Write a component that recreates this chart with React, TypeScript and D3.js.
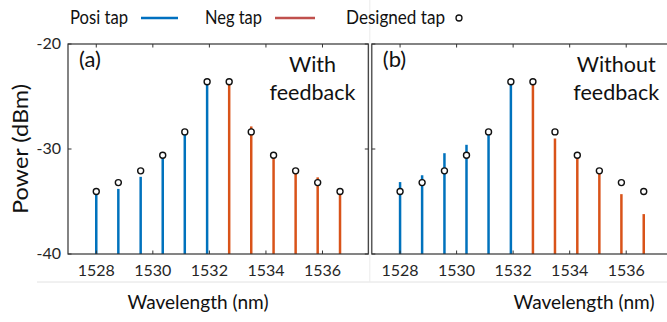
import * as d3 from 'd3'

const wavelengths = [1528.0, 1528.78, 1529.57, 1530.35, 1531.13, 1531.92, 1532.7, 1533.48, 1534.27, 1535.05, 1535.83, 1536.62]
const tapSign = ['pos', 'pos', 'pos', 'pos', 'pos', 'pos', 'neg', 'neg', 'neg', 'neg', 'neg', 'neg']
const designed = [-34.05, -33.2, -32.08, -30.6, -28.37, -23.6, -23.6, -28.37, -30.6, -32.08, -33.2, -34.05]
const withFeedback = [-34.05, -33.8, -32.65, -30.6, -28.4, -23.6, -23.6, -27.85, -30.7, -32.0, -32.7, -34.05]
const withoutFeedback = [-33.15, -32.5, -30.4, -29.6, -28.37, -23.6, -23.6, -29.0, -30.8, -32.08, -34.3, -36.2]
const xTicks = [1528, 1530, 1532, 1534, 1536]
const yTicks = [-20, -30, -40]

const BLUE = '#0072BD'
const ORANGE = '#D95319'
const FONT = 'Lato, "Open Sans", sans-serif'

const y = d3.scaleLinear().domain([-40, -20]).range([254, 44])

function Panel({ x0, x1, values, label, note, xLabelAt }: { x0: number; x1: number; values: number[]; label: string; note: string[]; xLabelAt: number }) {
  const x = d3.scaleLinear().domain([1527, 1537.62]).range([x0, x1])
  const [top, bottom] = [y(-20), y(-40)]
  const cx = x(1536) - 10
  return (
    <g>
      {/* stems */}
      {values.map((v, i) => (
        <line key={'s' + i} x1={x(wavelengths[i])} x2={x(wavelengths[i])} y1={bottom} y2={y(v)}
          stroke={tapSign[i] === 'pos' ? BLUE : ORANGE} strokeWidth={2.5} />
      ))}
      {/* box */}
      <rect x={x0} y={top} width={x1 - x0} height={bottom - top} fill="none" stroke="#333" strokeWidth={1.2} />
      {xTicks.map(t => (
        <g key={'xt' + t}>
          <line x1={x(t)} x2={x(t)} y1={bottom} y2={bottom - 3.5} stroke="#333" />
          <line x1={x(t)} x2={x(t)} y1={top} y2={top + 3.5} stroke="#333" />
          <text x={x(t)} y={276} textAnchor="middle" fontSize={16} fill="#262626" fontFamily={FONT}>{t}</text>
        </g>
      ))}
      {yTicks.map(t => (
        <g key={'yt' + t}>
          <line x1={x0} x2={x0 + 3.5} y1={y(t)} y2={y(t)} stroke="#333" />
          <line x1={x1} x2={x1 - 3.5} y1={y(t)} y2={y(t)} stroke="#333" />
        </g>
      ))}
      {/* designed taps */}
      {designed.map((v, i) => (
        <circle key={'c' + i} cx={x(wavelengths[i])} cy={y(v)} r={3} fill="#fff" stroke="#111" strokeWidth={1.4} />
      ))}
      <text x={x0 + 11} y={67} fontSize={22} fill="#111" fontFamily={FONT}>{label}</text>
      {note.map((n, i) => (
        <text key={n} x={cx} y={72 + i * 28} textAnchor="middle" fontSize={21.5} fill="#111" fontFamily={FONT}>{n}</text>
      ))}
      <text x={xLabelAt} y={309} textAnchor="middle" fontSize={19.5} textLength={141} lengthAdjust="spacingAndGlyphs"
        fill="#111" fontFamily={FONT}>Wavelength (nm)</text>
    </g>
  )
}

export default function App() {
  return (
    <svg width={667} height={322} style={{ position: 'absolute', left: 0, top: 0, background: '#fff' }}>
      <line x1={37} x2={667} y1={282} y2={282} stroke="#e2e2e2" />
      <line x1={369.8} x2={369.8} y1={0} y2={282} stroke="#ececec" />
      {/* legend */}
      <text x={70} y={24} fontSize={19.5} textLength={58} lengthAdjust="spacingAndGlyphs" fill="#111" fontFamily={FONT}>Posi tap</text>
      <line x1={141} x2={178} y1={18} y2={18} stroke="#0070C0" strokeWidth={2.5} />
      <text x={205} y={24} fontSize={19.5} textLength={57} lengthAdjust="spacingAndGlyphs" fill="#111" fontFamily={FONT}>Neg tap</text>
      <line x1={275} x2={315} y1={18} y2={18} stroke="#C0504D" strokeWidth={2.5} />
      <text x={346} y={24} fontSize={19.5} textLength={99} lengthAdjust="spacingAndGlyphs" fill="#111" fontFamily={FONT}>Designed tap</text>
      <circle cx={459} cy={18} r={3} fill="#fff" stroke="#111" strokeWidth={1.3} />
      {/* y axis */}
      {yTicks.map(t => (
        <text key={t} x={61} y={y(t) + 5} textAnchor="end" fontSize={16} fill="#262626" fontFamily={FONT}>{t}</text>
      ))}
      <text transform={`translate(28,${y(-30)}) rotate(-90)`} textAnchor="middle" fontSize={21} textLength={130}
        lengthAdjust="spacingAndGlyphs" fill="#111" fontFamily={FONT}>Power (dBm)</text>
      <Panel x0={68} x1={368.3} values={withFeedback} label="(a)" note={['With', 'feedback']} xLabelAt={198} />
      <Panel x0={371.8} x1={672} values={withoutFeedback} label="(b)" note={['Without', 'feedback']} xLabelAt={584} />
    </svg>
  )
}
